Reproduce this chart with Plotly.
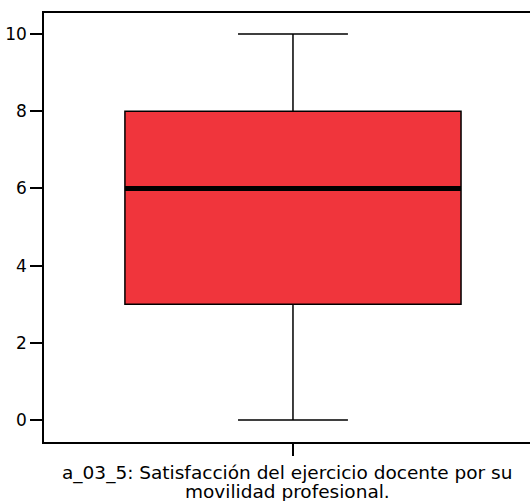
import plotly.graph_objects as go

# Data
label_line1 = "a_03_5: Satisfacción del ejercicio docente por su"
label_line2 = "movilidad profesional."
q1_vals = [3]
median_vals = [6]
q3_vals = [8]
lower_fence_vals = [0]
upper_fence_vals = [10]
y_ticks = [0, 2, 4, 6, 8, 10]

box_width = 0.675
fill_color = "#F0353C"

fig = go.Figure()
fig.add_trace(go.Box(
    x=[0],
    q1=q1_vals, median=median_vals, q3=q3_vals,
    lowerfence=lower_fence_vals, upperfence=upper_fence_vals,
    width=box_width,
    whiskerwidth=0.327,
    fillcolor=fill_color,
    line=dict(color="black", width=1.5),
    boxpoints=False,
    hoverinfo="skip",
    showlegend=False,
))
# thick median line
fig.add_trace(go.Scatter(
    x=[-box_width / 2, box_width / 2],
    y=[median_vals[0], median_vals[0]],
    mode="lines",
    line=dict(color="black", width=5),
    hoverinfo="skip",
    showlegend=False,
))

fig.update_layout(
    width=530, height=501,
    margin=dict(l=44, r=0, t=13, b=59),
    paper_bgcolor="white", plot_bgcolor="white",
    font=dict(family="DejaVu Sans", color="black"),
    xaxis=dict(
        range=[-0.5, 0.476],
        tickvals=[0], ticktext=[""],
        ticks="outside", ticklen=12, tickwidth=1.5, tickcolor="black",
        showline=True, linecolor="black", linewidth=1.5, mirror=True,
        showgrid=False, zeroline=False, automargin=False,
    ),
    yaxis=dict(
        range=[-0.57, 10.544],
        tickvals=y_ticks,
        ticks="outside", ticklen=12, tickwidth=1.5, tickcolor="black",
        tickfont=dict(size=17),
        showline=True, linecolor="black", linewidth=1.5,
        showgrid=False, zeroline=False, automargin=False,
    ),
    annotations=[
        dict(text=label_line1, xref="paper", yref="paper", x=0.5, y=-0.042,
             xanchor="center", yanchor="top", showarrow=False,
             font=dict(size=18.5)),
        dict(text=label_line2, xref="paper", yref="paper", x=0.5, y=-0.0865,
             xanchor="center", yanchor="top", showarrow=False,
             font=dict(size=18.5)),
    ],
)

fig.write_html(
    "out.html",
    config={"displayModeBar": False},
    post_script="document.body.style.margin='0';document.body.style.overflow='hidden';",
)
